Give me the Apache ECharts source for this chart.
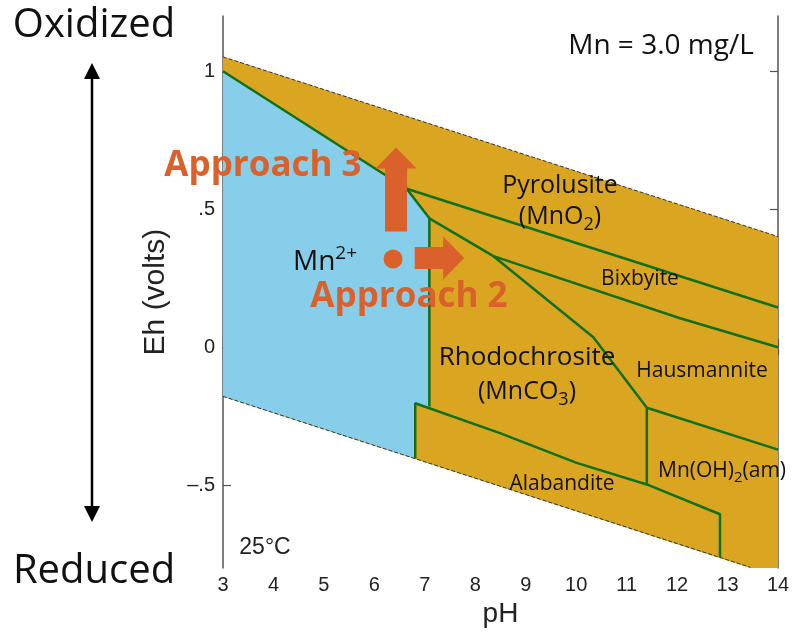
<!DOCTYPE html>
<html>
<head>
<meta charset="utf-8">
<script src="https://cdn.jsdelivr.net/npm/echarts@6/dist/echarts.min.js"></script>
<style>
  html, body { margin: 0; padding: 0; background: #fff; }
  #main { width: 795px; height: 633px; }
</style>
</head>
<body>
<div id="main"></div>
<script>
// Eh-pH diagram for Mn, 25°C, Mn = 3.0 mg/L
const ehTicks = [-0.5, 0, 0.5, 1];
const ehTickLabels = { '-0.5': '\u2013.5', '0': '0', '0.5': '.5', '1': '1' };

// water stability limits
const waterUpper = [[3, 1.052], [14, 0.401]];
const waterLower = [[3, -0.178], [13.45, -0.797]];

// filled regions
const stableRegion = [[3, 1.052], [14, 0.401], [14, -0.8], [13.45, -0.8], [3, -0.178]];
const mn2Region = [[3, 1.0], [6.64, 0.574], [7.09, 0.467], [7.09, -0.215], [6.81, -0.203], [6.81, -0.403], [3, -0.178]];

// phase boundaries
const pyrolusiteMn2 = [[3, 1.0], [6.64, 0.574], [7.09, 0.467]];
const pyrolusiteBixbyite = [[6.64, 0.574], [14, 0.144]];
const mn2Rhodo = [[7.09, 0.467], [7.09, -0.215]];
const rhodoBixbyite = [[7.09, 0.467], [8.36, 0.33]];
const bixbyiteHaus = [[8.36, 0.33], [12.06, 0.105], [14, 0.0]];
const rhodoHaus = [[8.36, 0.33], [10.34, 0.036], [11.40, -0.219]];
const hausMnOH2 = [[11.40, -0.219], [14, -0.371]];
const rhodoMnOH2 = [[11.40, -0.219], [11.40, -0.497]];
const alabanditeEdge = [[6.81, -0.403], [6.81, -0.203], [8.49, -0.311], [10.01, -0.419], [11.40, -0.497], [12.85, -0.605], [12.85, -0.761]];

const startPoint = [[6.37, 0.32]];

const GOLD = '#DAA520', BLUE = '#87CEEB', GREEN = '#11701a', ORANGE = '#DA612B';
const SANS = '"Open Sans", "Noto Sans", sans-serif';
const ARIAL = '"Liberation Sans", Arial, sans-serif';

function region(pts, color) {
    return {
        type: 'custom',
        silent: true,
        z: 1,
        data: pts,
        encode: { x: 0, y: 1 },
        renderItem: function (params, api) {
            if (params.dataIndex !== 0) return null;
            return {
                type: 'polygon',
                shape: { points: pts.map(p => api.coord(p)) },
                style: { fill: color }
            };
        }
    };
}
function boundary(pts) {
    return { type: 'line', data: pts, symbol: 'none', silent: true, z: 4,
        lineStyle: { color: GREEN, width: 2.5 } };
}
function waterLine(pts) {
    return { type: 'line', data: pts, symbol: 'none', silent: true, z: 3,
        lineStyle: { color: '#333', width: 1, type: [4, 2] } };
}

const axisCommon = {
    axisLine: { show: true, lineStyle: { color: '#555', width: 1.5 } },
    axisTick: { show: true, inside: true, length: 8, lineStyle: { color: '#555', width: 1.2 } },
    splitLine: { show: false }
};

var myChart = echarts.init(document.getElementById('main'));
const option = {
    animation: false,
    grid: { left: 223, right: 17, top: 16, bottom: 63 },
    xAxis: [
        Object.assign({}, axisCommon, {
            type: 'value', min: 3, max: 14, interval: 1, position: 'bottom',
            axisLabel: { fontSize: 20, fontFamily: ARIAL, color: '#222', margin: 7 },
            name: 'pH', nameLocation: 'middle', nameGap: 30,
            nameTextStyle: { fontSize: 28, fontFamily: ARIAL, color: '#222' }
        }),
        Object.assign({}, axisCommon, {
            type: 'value', min: 3, max: 14, interval: 1, position: 'top',
            axisLabel: { show: false }
        })
    ],
    yAxis: [
        Object.assign({}, axisCommon, {
            type: 'value', min: -0.8, max: 1.2, position: 'left',
            axisTick: Object.assign({}, axisCommon.axisTick, { customValues: ehTicks }),
            axisLabel: { customValues: ehTicks, fontSize: 20, fontFamily: ARIAL, color: '#222', margin: 8,
                formatter: v => ehTickLabels[String(v)] },
            name: 'Eh (volts)', nameLocation: 'middle', nameGap: 52, nameRotate: 90,
            nameTextStyle: { fontSize: 30, fontFamily: ARIAL, color: '#222' }
        }),
        Object.assign({}, axisCommon, {
            type: 'value', min: -0.8, max: 1.2, position: 'right',
            axisTick: Object.assign({}, axisCommon.axisTick, { customValues: ehTicks }),
            axisLabel: { show: false }
        })
    ],
    series: [
        region(stableRegion, GOLD),
        region(mn2Region, BLUE),
        waterLine(waterUpper),
        waterLine(waterLower),
        boundary(pyrolusiteMn2),
        boundary(pyrolusiteBixbyite),
        boundary(mn2Rhodo),
        boundary(rhodoBixbyite),
        boundary(bixbyiteHaus),
        boundary(rhodoHaus),
        boundary(hausMnOH2),
        boundary(rhodoMnOH2),
        boundary(alabanditeEdge),
        { type: 'scatter', data: startPoint, symbolSize: 19, z: 6, silent: true,
          itemStyle: { color: ORANGE, opacity: 1 } }
    ]
};
myChart.setOption(option);

// annotations
const mctx = document.createElement('canvas').getContext('2d');
function tw(t, size, fam, weight) {
    mctx.font = (weight || 'normal') + ' ' + size + 'px ' + fam;
    return mctx.measureText(t).width;
}
function label(t, x, y, size, opt) {
    opt = opt || {};
    return { type: 'text', x: x, y: y, z: 100, silent: true,
        style: { text: t, fontSize: size, fontFamily: opt.fam || SANS, fontWeight: opt.weight || 'normal',
            fill: opt.color || '#111', align: opt.align || 'center', verticalAlign: 'middle' } };
}
// parts: [text, size, dy]
function compound(parts, x, y, align) {
    const widths = parts.map(p => tw(p[0], p[1], SANS));
    const total = widths.reduce((a, b) => a + b, 0);
    let cx = align === 'left' ? x : x - total / 2;
    return parts.map((p, i) => {
        const el = label(p[0], cx, y + (p[2] || 0), p[1], { align: 'left' });
        cx += widths[i];
        return el;
    });
}

const up = myChart.convertToPixel({ xAxisIndex: 0, yAxisIndex: 0 }, [6.43, 0.419]);
const upTip = myChart.convertToPixel({ xAxisIndex: 0, yAxisIndex: 0 }, [6.43, 0.724]);
const rt = myChart.convertToPixel({ xAxisIndex: 0, yAxisIndex: 0 }, [6.80, 0.323]);
const rtTip = myChart.convertToPixel({ xAxisIndex: 0, yAxisIndex: 0 }, [7.78, 0.323]);

const graphics = [
    // up arrow (Approach 3)
    { type: 'polygon', z: 90, silent: true, style: { fill: ORANGE },
      shape: { points: [
        [up[0] - 11, up[1]], [up[0] + 11, up[1]], [up[0] + 11, upTip[1] + 21],
        [up[0] + 20.5, upTip[1] + 21], [upTip[0], upTip[1]], [up[0] - 20.5, upTip[1] + 21],
        [up[0] - 11, upTip[1] + 21] ] } },
    // right arrow (Approach 2)
    { type: 'polygon', z: 90, silent: true, style: { fill: ORANGE },
      shape: { points: [
        [rt[0], rt[1] - 11], [rtTip[0] - 21, rt[1] - 11], [rtTip[0] - 21, rt[1] - 21.5],
        [rtTip[0], rt[1]], [rtTip[0] - 21, rt[1] + 21.5], [rtTip[0] - 21, rt[1] + 11],
        [rt[0], rt[1] + 11] ] } },
    // oxidized / reduced double arrow
    { type: 'line', silent: true, shape: { x1: 92, y1: 76, x2: 92, y2: 508 },
      style: { stroke: '#000', lineWidth: 2.5 } },
    { type: 'polygon', silent: true, style: { fill: '#000' },
      shape: { points: [[92, 63], [100, 79], [84, 79]] } },
    { type: 'polygon', silent: true, style: { fill: '#000' },
      shape: { points: [[92, 522], [100, 506], [84, 506]] } },
    label('Oxidized', 94, 26, 40),
    label('Reduced', 94, 572, 40),
    label('Mn = 3.0 mg/L', 661, 46, 28),
    label('Pyrolusite', 560, 186, 25),
    label('Bixbyite', 640, 279, 21),
    label('Hausmannite', 702, 371, 21),
    label('Rhodochrosite', 527, 358, 26),
    label('Alabandite', 562, 484, 21),
    label('25\u00B0C', 265, 548, 23, { fam: ARIAL, color: '#222' }),
    label('Approach 3', 263, 166, 35, { weight: 'bold', color: ORANGE }),
    label('Approach 2', 409, 297, 35, { weight: 'bold', color: ORANGE })
].concat(
    compound([['(MnO', 25], ['2', 18, 8], [')', 25]], 560, 217),
    compound([['(MnCO', 25], ['3', 18, 8], [')', 25]], 527, 392),
    compound([['Mn(OH)', 21], ['2', 15, 7], ['(am)', 21]], 658, 471, 'left'),
    compound([['Mn', 28], ['2+', 19, -8]], 293, 262, 'left')
);
myChart.setOption({ graphic: graphics });
</script>
</body>
</html>
